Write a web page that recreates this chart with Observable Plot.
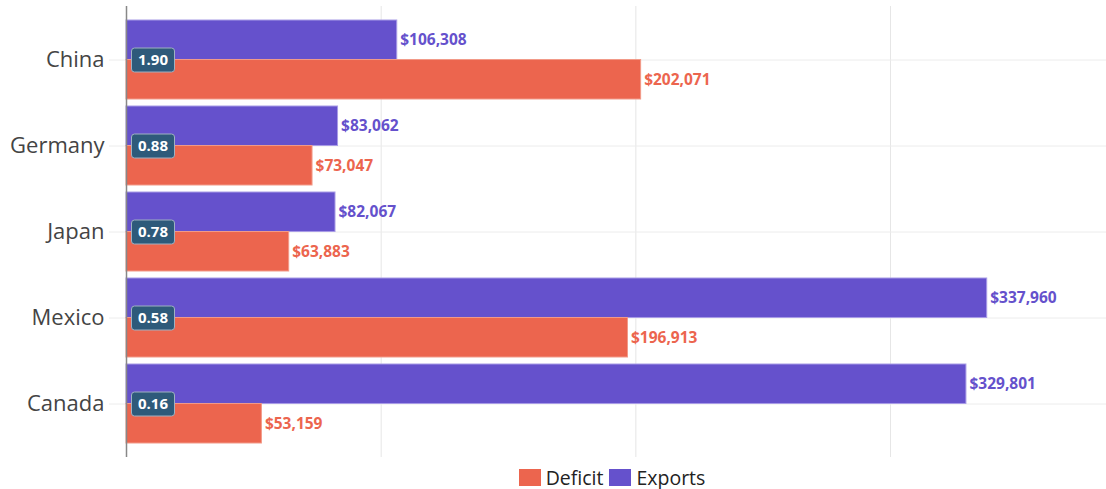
<!DOCTYPE html>
<html><head><meta charset="utf-8">
<script src="https://cdn.jsdelivr.net/npm/d3@7"></script>
<script src="https://cdn.jsdelivr.net/npm/@observablehq/plot@0.6"></script>
<style>
body{margin:0;background:#fff;font-family:"Open Sans",sans-serif;}
#legend{display:flex;justify-content:center;align-items:center;padding-left:118px;padding-top:3px;height:29px;font-size:19.5px;color:#222;}
.item{display:flex;align-items:center;margin:0 3px;}
.sw{display:inline-block;width:22px;height:17px;margin-right:5px;}
</style></head><body><div id="chart"></div><div id="legend"></div>
<script>
const countries = ["China", "Germany", "Japan", "Mexico", "Canada"];
const exportsValues = [106308, 83062, 82067, 337960, 329801];
const deficitValues = [202071, 73047, 63883, 196913, 53159];
const ratios = [1.90, 0.88, 0.78, 0.58, 0.16];
const seriesNames = ["Exports", "Deficit"];
const legendNames = ["Deficit", "Exports"];
const gridTicks = [100000, 200000, 300000];

const colors = {Exports: "#6551cc", Deficit: "#ec654e"};
const strokes = {Exports: "#a89ce6", Deficit: "#f29a88"};

const W = 1106, H = 460, mL = 126, mR = 0, mT = 6, mB = 3;
const padIn = 0.085, padOut = 0.153;
const band = d3.scaleBand().domain(countries).range([mT, H - mB]).paddingInner(padIn).paddingOuter(padOut);
const half = band.bandwidth() / 2;

const rows = countries.flatMap((c, i) => [
  {country: c, series: "Exports", value: exportsValues[i]},
  {country: c, series: "Deficit", value: deficitValues[i]}
]);
const badges = countries.map((c, i) => ({country: c, ratio: ratios[i]}));
const fmt = d3.format(",");

const badgeSymbol = {
  draw(ctx) {
    const w = 43, h = 24, r = 3, x0 = -w / 2, y0 = -h / 2, x1 = w / 2, y1 = h / 2;
    ctx.moveTo(x0 + r, y0);
    ctx.lineTo(x1 - r, y0);
    ctx.arcTo(x1, y0, x1, y0 + r, r);
    ctx.lineTo(x1, y1 - r);
    ctx.arcTo(x1, y1, x1 - r, y1, r);
    ctx.lineTo(x0 + r, y1);
    ctx.arcTo(x0, y1, x0, y1 - r, r);
    ctx.lineTo(x0, y0 + r);
    ctx.arcTo(x0, y0, x0 + r, y0, r);
    ctx.closePath();
  }
};

const seriesMarks = seriesNames.flatMap(s => {
  const data = rows.filter(d => d.series === s);
  const top = s === "Exports";
  return [
    Plot.barX(data, {y: "country", x: "value", fill: colors[s], stroke: strokes[s], strokeWidth: 1,
      insetTop: top ? 0 : half, insetBottom: top ? half : 0}),
    Plot.text(data, {y: "country", x: "value", text: d => "$" + fmt(d.value),
      textAnchor: "start", dx: 3, dy: top ? -half / 2 : half / 2,
      fill: colors[s], fontWeight: "bold", fontSize: 15.5})
  ];
});

const chart = Plot.plot({
  width: W, height: H,
  marginLeft: mL, marginRight: mR, marginTop: mT, marginBottom: mB,
  style: {fontFamily: "'Open Sans', sans-serif", background: "white"},
  x: {domain: [0, 384800], axis: null},
  y: {domain: countries, paddingInner: padIn, paddingOuter: padOut, axis: null},
  marks: [
    Plot.gridX(gridTicks, {stroke: "#e6e6e6", strokeOpacity: 1}),
    Plot.gridY({stroke: "#ececec", strokeOpacity: 1}),
    Plot.axisY({tickSize: 17, tickPadding: 5, stroke: "#ececec", strokeOpacity: 1, fill: "#444", fontSize: 22, label: null}),
    ...seriesMarks,
    Plot.dot(badges, {y: "country", x: 0, dx: 26.5, symbol: badgeSymbol, fill: "#2e5a7a", stroke: "#9fb1c2", strokeWidth: 1}),
    Plot.text(badges, {y: "country", x: 0, dx: 26.5, text: d => d.ratio.toFixed(2), fill: "white", fontWeight: "bold", fontSize: 15}),
    Plot.ruleX([0], {stroke: "#888", strokeWidth: 1.5})
  ]
});
document.getElementById("chart").appendChild(chart);

const legend = document.getElementById("legend");
legendNames.forEach(n => {
  const item = document.createElement("div");
  item.className = "item";
  const sw = document.createElement("span");
  sw.className = "sw";
  sw.style.background = colors[n];
  item.appendChild(sw);
  item.appendChild(document.createTextNode(n));
  legend.appendChild(item);
});
</script></body></html>
